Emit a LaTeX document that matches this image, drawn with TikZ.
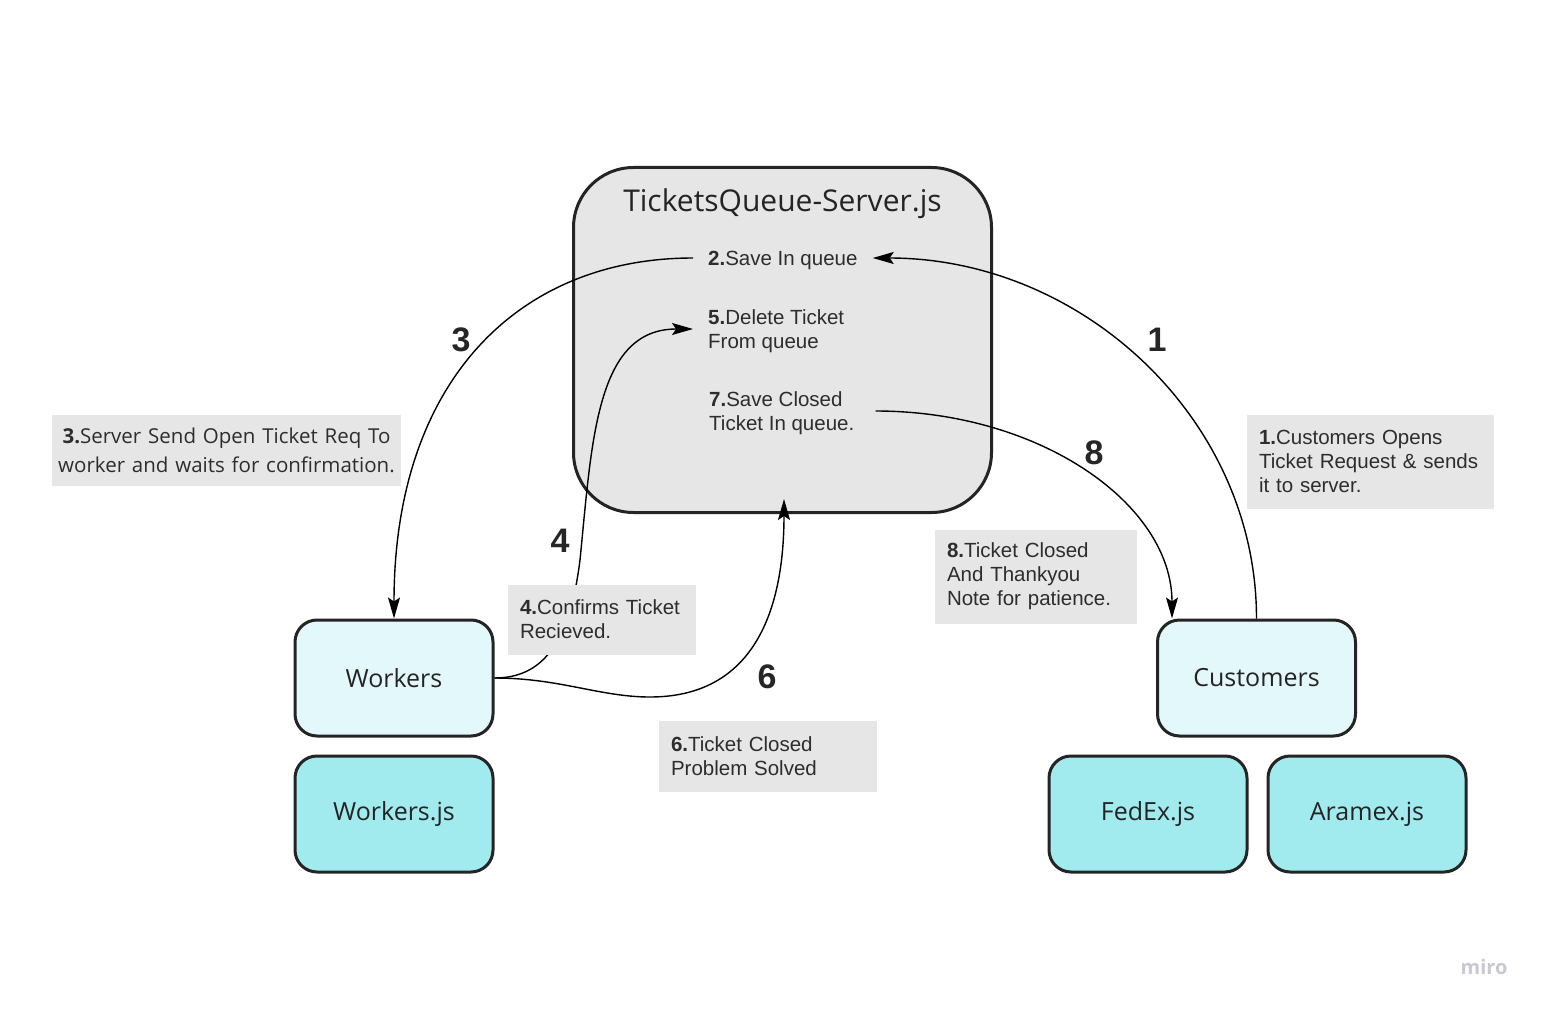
\documentclass[tikz,border=0pt]{standalone}
\usepackage{fontspec}
\usepackage{tikz}
\setmainfont{Liberation Sans}
\newfontfamily\opensans{Open Sans}
\usetikzlibrary{arrows.meta}

\definecolor{srvgray}{RGB}{230,230,230}
\definecolor{edgegray}{RGB}{36,36,36}
\definecolor{lightcyan}{RGB}{227,248,250}
\definecolor{darkcyan}{RGB}{161,234,238}
\definecolor{txtgray}{RGB}{45,45,45}
\definecolor{mirogray}{RGB}{200,200,212}

\begin{document}
\begin{tikzpicture}[x=1pt,y=-1pt,
	box/.style={draw=edgegray, line width=3pt, rounded corners=22pt, minimum width=198pt, minimum height=116pt, text=edgegray, font=\opensans\fontsize{25}{30}\selectfont},
	stepitem/.style={anchor=west, align=left, inner xsep=15pt, inner ysep=0pt, text=txtgray, font=\fontsize{20.5}{24}\selectfont},
	note/.style={fill=srvgray, align=left, inner xsep=12pt, inner ysep=0pt, text=txtgray, font=\fontsize{20.5}{24}\selectfont},
	num/.style={text=black!85, font=\bfseries\fontsize{34}{34}\selectfont},
	flow/.style={-{Stealth[length=21pt,width=12pt,inset=4pt]}, line width=1.4pt, black}]
	%set diagram to the size of the board
	\useasboundingbox (0,0) rectangle (1545,1011);
	\fill[white] (0,0) rectangle (1545,1011);
	
	%Shape: Rounded Rect [server]
	\node[draw=edgegray, fill=srvgray, line width=3pt, rounded corners=60pt, minimum width=418pt, minimum height=345pt] (srv) at (782.5,340) {};
	\node[text=edgegray, font=\opensans\fontsize{30}{36}\selectfont] (srvtitle) at (782.5,204) {TicketsQueue-Server.js};
	\node[stepitem] (save) at (693,260) {\textbf{2.}Save In queue};
	\node[stepitem] (del) at (693,331) {\textbf{5.}Delete Ticket\\From queue};
	\node[stepitem] (closed) at (694,413) {\textbf{7.}Save Closed\\Ticket In queue.};
	
	%Shape: Rounded Rect [workers side]
	\node[box, fill=lightcyan] (wrk) at (394,678) {Workers};
	\node[box, fill=darkcyan] (wrkjs) at (394,814) {Workers.js};
	%Shape: Rounded Rect [customers side]
	\node[box, fill=lightcyan] (cust) at (1256.5,678) {Customers};
	\node[box, fill=darkcyan] (fedex) at (1148,814) {FedEx.js};
	\node[box, fill=darkcyan] (aramex) at (1367,814) {Aramex.js};
	
	%Curve Lines [1]
	\draw[flow] (cust.north) .. controls +(0,-199) and +(210,0) .. ([yshift=2pt]save.east);
	%Curve Lines [3]
	\draw[flow] ([yshift=2pt]save.west) .. controls +(-175,0) and +(0,-237) .. (wrk.north);
	%Curve Lines [4]
	\coordinate (bend4) at (580,560);
	\draw[flow] (wrk.east) .. controls +(50,0) and +(-10,80) .. (bend4) .. controls +(12,-120) and +(-97,0) .. ([yshift=2pt]del.west);
	%Curve Lines [6]
	\coordinate (bend6) at (650,697);
	\draw[flow] (wrk.east) .. controls +(65,0) and +(-50,0) .. (bend6) .. controls +(110,0) and +(0,101) .. ([xshift=1.5pt,yshift=15pt]srv.south);
	%Curve Lines [8]
	\draw[flow] ([xshift=6pt,yshift=2pt]closed.east) .. controls +(165,0) and +(0,-114) .. ([xshift=16pt]cust.north west);
	
	%Text: step numbers
	\node[num] (n1) at (1157,340) {1};
	\node[num] (n3) at (461,340) {3};
	\node[num] (n4) at (560,541) {4};
	\node[num] (n6) at (767,677) {6};
	\node[num] (n8) at (1094,453) {8};
	
	%Shape: Rectangle [notes]
	\node[note, text width=223pt, minimum height=94pt] (note1) at (1370.5,461.5) {\textbf{1.}Customers Opens\\Ticket Request \& sends\\it to server.};
	\node[note, align=center, inner xsep=4pt, text width=341pt, minimum height=71pt, font=\opensans\fontsize{20.5}{29}\selectfont] (note3) at (226.5,450.5) {\textbf{3.}Server Send Open Ticket Req To\\worker and waits for confirmation.};
	\node[note, text width=164pt, minimum height=70pt] (note4) at (602,619.5) {\textbf{4.}Confirms Ticket\\Recieved.};
	\node[note, text width=194pt, minimum height=71pt] (note6) at (768,756) {\textbf{6.}Ticket Closed\\Problem Solved};
	\node[note, text width=178pt, minimum height=94pt] (note8) at (1036,576.5) {\textbf{8.}Ticket Closed\\And Thankyou\\Note for patience.};
	
	%Text: board mark
	\node[text=mirogray, font=\opensans\bfseries\fontsize{20}{20}\selectfont] (miro) at (1484,967) {miro};
\end{tikzpicture}
\end{document}
